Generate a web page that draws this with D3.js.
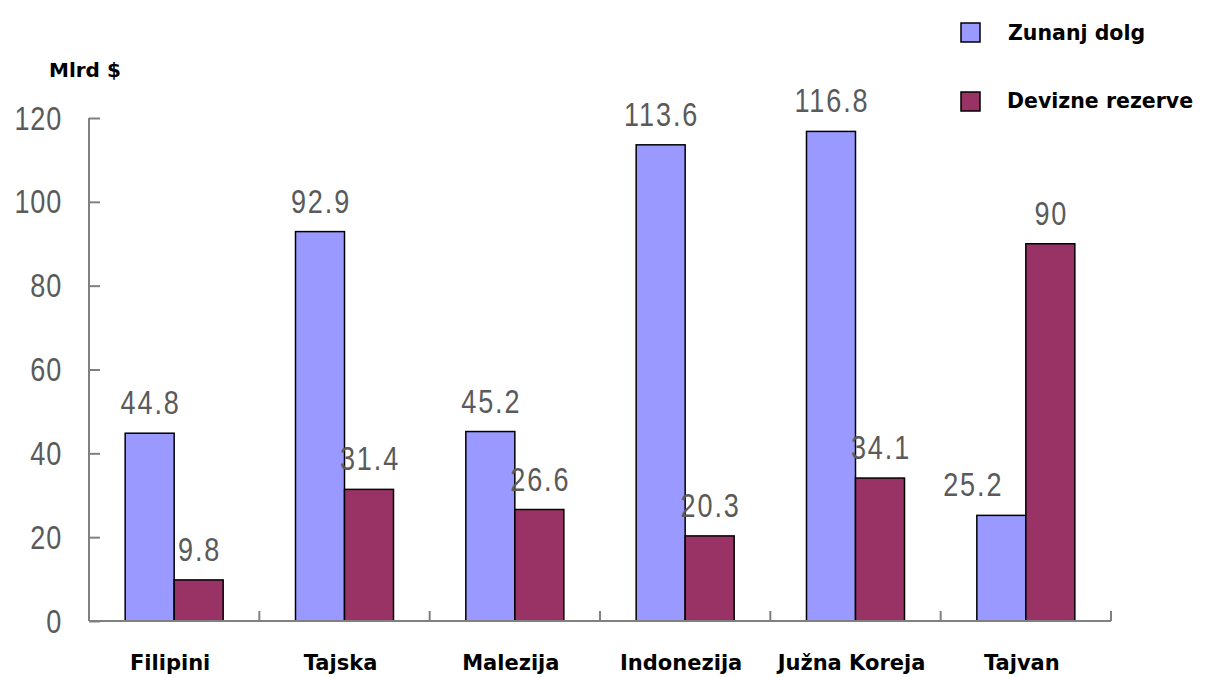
<!DOCTYPE html>
<html>
<head>
<meta charset="utf-8">
<script src="https://cdn.jsdelivr.net/npm/d3@7"></script>
<style>
  html, body { margin: 0; padding: 0; background: #fff; }
  svg { display: block; }
</style>
</head>
<body>
<svg id="chart" width="1208" height="678"></svg>
<script>
const categories = ["Filipini", "Tajska", "Malezija", "Indonezija", "Južna Koreja", "Tajvan"];
const seriesNames = ["Zunanj dolg", "Devizne rezerve"];
const zunanjDolg = [44.8, 92.9, 45.2, 113.6, 116.8, 25.2];
const devizneRezerve = [9.8, 31.4, 26.6, 20.3, 34.1, 90];
const yTicks = [0, 20, 40, 60, 80, 100, 120];
const colors = ["#9999FF", "#993366"];
const unitLabel = "Mlrd $";

(function () {
const svg = d3.select("#chart");
const mLeft = 89, mRight = 1111, mTop = 118, mBottom = 621;

const x0 = d3.scaleBand().domain(categories).range([mLeft, mRight]).padding(0);
const x1 = d3.scaleBand().domain(seriesNames).range([0, x0.bandwidth()]).paddingInner(0).paddingOuter(0.738);
const y = d3.scaleLinear().domain([0, 120]).range([mBottom, mTop]);

const valueFont = "'Liberation Sans', Arial, sans-serif";
const boldFont = "'DejaVu Sans', Verdana, sans-serif";
const narrow = 0.82;

// Y axis
const yAxis = d3.axisRight(y).tickValues(yTicks).tickSize(11).tickFormat("");
const gy = svg.append("g").attr("transform", `translate(${mLeft},0)`).call(yAxis);
gy.select(".domain").attr("stroke", "#808080").attr("stroke-width", 2).attr("d", `M0,${mBottom}V${mTop}`);
gy.selectAll(".tick line").attr("stroke", "#808080").attr("stroke-width", 2);

// Y tick labels
svg.append("g").selectAll("text").data(yTicks).join("text")
  .attr("transform", d => `translate(62,${y(d)}) scale(${narrow},1)`)
  .attr("dy", "0.35em")
  .attr("text-anchor", "end")
  .attr("font-family", valueFont)
  .attr("font-size", 33)
  .attr("letter-spacing", 1)
  .attr("fill", "#5a5a5a")
  .text(d => d);

// unit label
svg.append("text").attr("x", 49).attr("y", 77)
  .attr("font-family", boldFont).attr("font-weight", "bold").attr("font-size", 20)
  .attr("fill", "#000").text(unitLabel);

// Bars
const data = categories.map((c, i) => ({cat: c, vals: [zunanjDolg[i], devizneRezerve[i]]}));
const groups = svg.append("g").selectAll("g").data(data).join("g")
  .attr("transform", d => `translate(${x0(d.cat)},0)`);

groups.selectAll("rect").data(d => d.vals.map((v, k) => ({s: seriesNames[k], v, k})))
  .join("rect")
  .attr("x", d => x1(d.s))
  .attr("y", d => y(d.v))
  .attr("width", x1.bandwidth())
  .attr("height", d => y(0) - y(d.v))
  .attr("fill", d => colors[d.k])
  .attr("stroke", "#000")
  .attr("stroke-width", 1.5);

// Value labels
groups.each(function(d) {
  const g = d3.select(this);
  d.vals.forEach((v, k) => {
    const cx = x1(seriesNames[k]) + x1.bandwidth() / 2;
    const other = d.vals[1 - k];
    const shiftLeft = (k === 0 && other > v + 10);
    g.append("text")
      .attr("transform", `translate(${shiftLeft ? cx + 2 : cx + 1},${y(v) - 19}) scale(${narrow},1)`)
      .attr("text-anchor", shiftLeft ? "end" : "middle")
      .attr("font-family", valueFont)
      .attr("font-size", 33)
      .attr("letter-spacing", 2.3)
      .attr("fill", "#5a5a5a")
      .text(v);
  });
});

// X axis
const gx = svg.append("g").attr("transform", `translate(0,${mBottom})`);
gx.append("path").attr("d", `M${mLeft},0H${mRight}`).attr("stroke", "#808080").attr("stroke-width", 2).attr("fill", "none");
const bounds = categories.map(c => x0(c) + x0.bandwidth());
gx.selectAll("line.t").data(bounds).join("line").attr("class", "t")
  .attr("x1", d => d).attr("x2", d => d).attr("y1", 0).attr("y2", -10)
  .attr("stroke", "#808080").attr("stroke-width", 2);

// Category labels
svg.append("g").selectAll("text").data(categories).join("text")
  .attr("x", d => x0(d) + x0.bandwidth() / 2 - 4)
  .attr("y", 670)
  .attr("text-anchor", "middle")
  .attr("font-family", boldFont).attr("font-weight", "bold").attr("font-size", 21)
  .attr("fill", "#000")
  .text(d => d);

// Legend
const legend = svg.append("g");
const legY = [23, 92];
const legTextY = [40, 108];
const legTextX = [1008, 1007];
seriesNames.forEach((s, k) => {
  legend.append("rect").attr("x", 961).attr("y", legY[k]).attr("width", 19).attr("height", 19)
    .attr("fill", colors[k]).attr("stroke", "#000").attr("stroke-width", 1.5);
  legend.append("text").attr("x", legTextX[k]).attr("y", legTextY[k])
    .attr("font-family", boldFont).attr("font-weight", "bold").attr("font-size", 20.5)
    .attr("fill", "#000").text(s);
});
})();
</script>
</body>
</html>
